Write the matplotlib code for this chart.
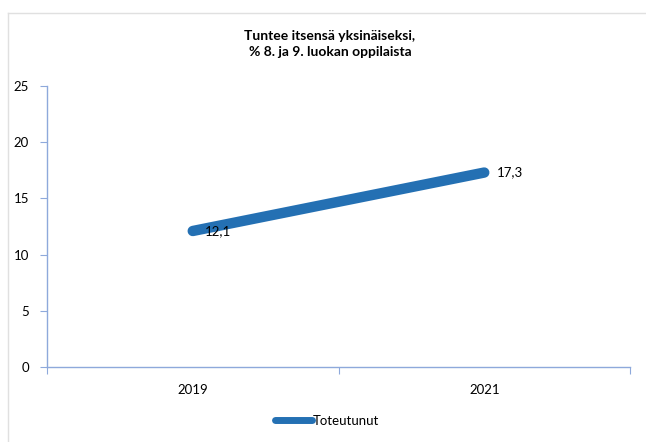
import matplotlib
matplotlib.use("Agg")
import matplotlib.pyplot as plt
from matplotlib.lines import Line2D

categories = ["2019", "2021"]
values = [12.1, 17.3]
value_labels = ["12,1", "17,3"]
series_name = "Toteutunut"
title = "Tuntee itsensä yksinäiseksi,\n% 8. ja 9. luokan oppilaista"

plt.rcParams['font.family'] = ['Lato', 'DejaVu Sans']

fig = plt.figure(figsize=(6.46, 4.42), dpi=100)
W, H = 646, 442
ax = fig.add_axes([47/W, 1-367/H, (630-47)/W, (367-86)/H])

color = "#2470B3"
x = [0.5, 1.5]
ax.plot(x, values, color=color, lw=7.5, solid_capstyle='round', label=series_name)
for xi, v, lab in zip(x, values, value_labels):
    ax.annotate(lab, (xi, v), xytext=(9, 0), textcoords='offset points',
                ha='left', va='center', fontsize=9.5, color='black')

ax.set_xlim(0, 2)
ax.set_ylim(0, 25)
ax.set_yticks([0, 5, 10, 15, 20, 25])
ax.set_xticks([0, 1, 2])
ax.set_xticklabels([])
ax.set_xticks(x, minor=True)
ax.set_xticklabels(categories, minor=True)
ax.tick_params(axis='x', which='minor', length=0, pad=12, labelsize=9.5)
ax.tick_params(axis='x', which='major', direction='out', length=5, color='#8EA9DB')
ax.tick_params(axis='y', direction='out', length=5, color='#8EA9DB', labelsize=9.5, pad=8)
for s in ['top', 'right']:
    ax.spines[s].set_visible(False)
for s in ['left', 'bottom']:
    ax.spines[s].set_color('#8EA9DB')
    ax.spines[s].set_linewidth(1)

fig.text(330/W, 1-44/H, title, ha='center', va='center', fontsize=10,
         fontweight='bold', linespacing=1.4)

handle = Line2D([], [], color=color, lw=5, solid_capstyle='round')
fig.legend([handle], [series_name], loc='center', bbox_to_anchor=(327/W, 1-421/H),
           frameon=False, fontsize=9.5, handlelength=2.8, handletextpad=0.0)

# light frame lines (top/left)
fig.add_artist(Line2D([8/W, 1], [1-13/H, 1-13/H], color='#E0E0E0', lw=1, transform=fig.transFigure))
fig.add_artist(Line2D([8/W, 8/W], [0, 1-13/H], color='#E0E0E0', lw=1, transform=fig.transFigure))

fig.savefig("out.png", dpi=100)
